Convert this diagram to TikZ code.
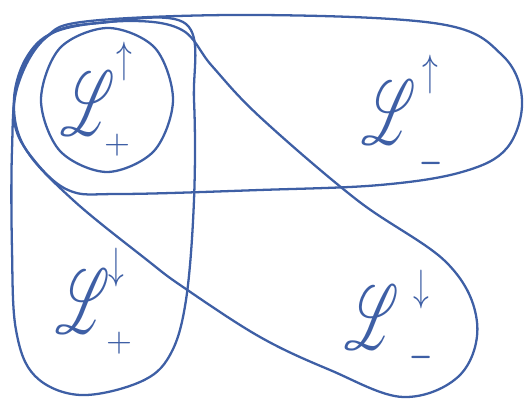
\documentclass[tikz,border=0pt]{standalone}
\usepackage{mathrsfs}
\definecolor{pen}{RGB}{62,95,165}
\begin{document}
\begin{tikzpicture}[x=0.02cm,y=-0.02cm,
  blob/.style={draw=pen,line width=1.3pt},
  lett/.style={text=pen,xscale=2.9,yscale=5.2,inner sep=0pt},
  arr/.style={text=pen,xscale=1.8,yscale=2.5,inner sep=0pt},
  sgn/.style={text=pen,scale=1.9,inner sep=0pt},
  msgn/.style={text=pen,xscale=1.7,yscale=3.2,inner sep=0pt}]
\useasboundingbox (0,0) rectangle (525,404);
% small circle
\draw[blob] plot[smooth cycle,tension=0.55] coordinates {(173,100) (154,151) (107,172) (60,151) (41,100) (60,48) (108,28) (155,48)};
% top blob
\draw[blob] plot[smooth cycle,tension=0.6] coordinates {(90,21) (260,15) (440,24) (502,55) (522,100) (507,148) (462,172) (380,185) (260,190) (120,194) (68,190) (30,155) (14,120) (20,75) (45,38)};
% vertical blob
\draw[blob] plot[smooth cycle,tension=0.6] coordinates {(100,23) (186,24) (194,100) (194,200) (186,300) (170,355) (140,382) (80,395) (35,376) (16,330) (12,250) (12,150) (18,85) (48,36)};
% diagonal blob
\draw[blob] plot[smooth cycle,tension=0.6] coordinates {(60,30) (130,21) (182,30) (212,66) (260,117) (357,200) (447,263) (477,322) (460,375) (403,397) (330,370) (260,337) (183,287) (147,260) (73,200) (25,148) (14,100) (28,55)};
% labels
\node[lett] (L1) at (88,104) {$\mathscr{L}$};
\node[arr] (a1) at (124,62) {$\uparrow$};
\node[sgn] (s1) at (117,145) {$+$};
\node[lett] (L2) at (389,113) {$\mathscr{L}$};
\node[arr] (a2) at (430,75) {$\uparrow$};
\node[msgn] (s2) at (431,163) {$-$};
\node[lett] (L3) at (83,302) {$\mathscr{L}$};
\node[arr] (a3) at (116,268) {$\downarrow$};
\node[sgn] (s3) at (119,343) {$+$};
\node[lett] (L4) at (372,318) {$\mathscr{L}$};
\node[arr] (a4) at (421,290) {$\downarrow$};
\node[msgn] (s4) at (421,357) {$-$};
\end{tikzpicture}
\end{document}
